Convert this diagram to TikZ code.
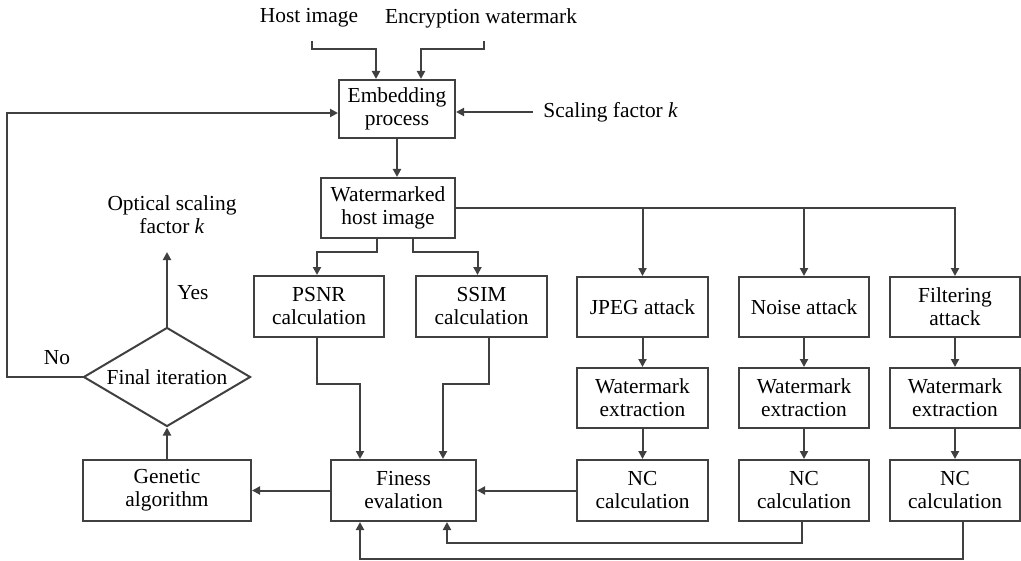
\documentclass[tikz,border=0pt]{standalone}
\usepackage{fontspec}
\setmainfont{Liberation Serif}
\usetikzlibrary{shapes.geometric,arrows.meta}
\begin{document}
\begin{tikzpicture}[x=0.5pt,y=-0.5pt,
  every node/.style={font=\fontsize{10.7}{11.5}\selectfont, text=black},
  box/.style={draw=black!75, line width=1pt, rectangle, inner sep=0pt, align=center},
  lbl/.style={align=center, inner sep=0pt},
  arr/.style={draw=black!75, line width=1pt, -{Triangle[length=4pt,width=4pt]}},
  ln/.style={draw=black!75, line width=1pt}]
\useasboundingbox (0,0) rectangle (1021,561);

% boxes
\node[box, minimum width=58pt, minimum height=29pt] (emb) at (397,109) {Embedding\\process};
\node[box, minimum width=67pt, minimum height=30pt] (wm) at (388,208) {Watermarked\\host image};
\node[box, minimum width=65pt, minimum height=30.5pt] (psnr) at (319,306.5) {PSNR\\calculation};
\node[box, minimum width=65.5pt, minimum height=30.5pt] (ssim) at (481.5,306.5) {SSIM\\calculation};
\node[box, minimum width=65.5pt, minimum height=30pt] (jpeg) at (642.5,307) {JPEG attack};
\node[box, minimum width=65pt, minimum height=30pt] (noise) at (804,307) {Noise attack};
\node[box, minimum width=65pt, minimum height=30pt] (filt) at (955,307) {Filtering\\attack};
\node[box, minimum width=65.5pt, minimum height=30pt] (ex1) at (642.5,398) {Watermark\\extraction};
\node[box, minimum width=65pt, minimum height=30pt] (ex2) at (804,398) {Watermark\\extraction};
\node[box, minimum width=65pt, minimum height=30pt] (ex3) at (955,398) {Watermark\\extraction};
\node[box, minimum width=65.5pt, minimum height=30.5pt] (nc1) at (642.5,490.5) {NC\\calculation};
\node[box, minimum width=65pt, minimum height=30.5pt] (nc2) at (804,490.5) {NC\\calculation};
\node[box, minimum width=65pt, minimum height=30.5pt] (nc3) at (955,490.5) {NC\\calculation};
\node[box, minimum width=72.5pt, minimum height=30.5pt] (fit) at (403.5,490.5) {Finess\\evalation};
\node[box, minimum width=84pt, minimum height=30.5pt] (gen) at (167,490.5) {Genetic\\algorithm};
\node[draw=black!75, line width=1pt, diamond, aspect=1.69, inner sep=0pt,
      minimum width=83.5pt, minimum height=49.5pt] (dia) at (167,377) {Final iteration};

% labels
\node[lbl] (host) at (309,18) {Host image};
\node[lbl] (enc) at (481,18) {Encryption watermark};
\node[lbl, anchor=west, inner xsep=5pt] (scal) at (533,112) {Scaling factor \textit{k}};
\node[lbl] (opt) at (172,215) {Optical scaling\\factor \textit{k}};
\node[lbl] (yes) at (193,293) {Yes};
\node[lbl] (no) at (57,358) {No};
\coordinate (yesend) at (167,252);

% connectors
\draw[arr] ([xshift=1.5pt,yshift=-6.5pt]host.south) |- ([xshift=-10.5pt,yshift=15pt]emb.north) -- ([xshift=-10.5pt]emb.north);
\draw[arr] ([xshift=1.5pt,yshift=-6.5pt]enc.south) |- ([xshift=12pt,yshift=15pt]emb.north) -- ([xshift=12pt]emb.north);
\draw[arr] (scal.west) -- (scal.west -| emb.east);
\draw[arr] (dia.west) -- ++(-75.5,0) |- ([yshift=-2pt]emb.west);
\draw[arr] (emb.south) -- (emb.south |- wm.north);
\draw[arr] ([xshift=-5.5pt]wm.south) -- ++(0,13) -| ([xshift=-1pt]psnr.north);
\draw[arr] ([xshift=12.5pt]wm.south) -- ++(0,13) -| ([xshift=-2pt]ssim.north);
\draw[arr] (wm.east) -| (jpeg.north);
\draw[arr] (wm.east) -| (noise.north);
\draw[arr] (wm.east) -| (filt.north);
\draw[arr] (jpeg) -- (ex1);
\draw[arr] (noise) -- (ex2);
\draw[arr] (filt) -- (ex3);
\draw[arr] (ex1) -- (nc1);
\draw[arr] (ex2) -- (nc2);
\draw[arr] (ex3) -- (nc3);
\draw[arr] ([xshift=-1pt]psnr.south) -- ++(0,46) -| ([xshift=-21.75pt]fit.north);
\draw[arr] ([xshift=3.75pt]ssim.south) -- ++(0,46) -| ([xshift=19.75pt]fit.north);
\draw[arr] (nc1.west) -- (fit.east);
\draw[arr] (fit.west) -- (gen.east);
\draw[arr] (gen.north) -- (dia.south);
\draw[arr] (dia.north) -- (yesend);
\draw[arr] ([xshift=-1pt]nc2.south) -- ++(0,21) -| ([xshift=21.75pt]fit.south);
\draw[arr] ([xshift=4pt]nc3.south) -- ++(0,37) -| ([xshift=-21.75pt]fit.south);
\end{tikzpicture}
\end{document}
